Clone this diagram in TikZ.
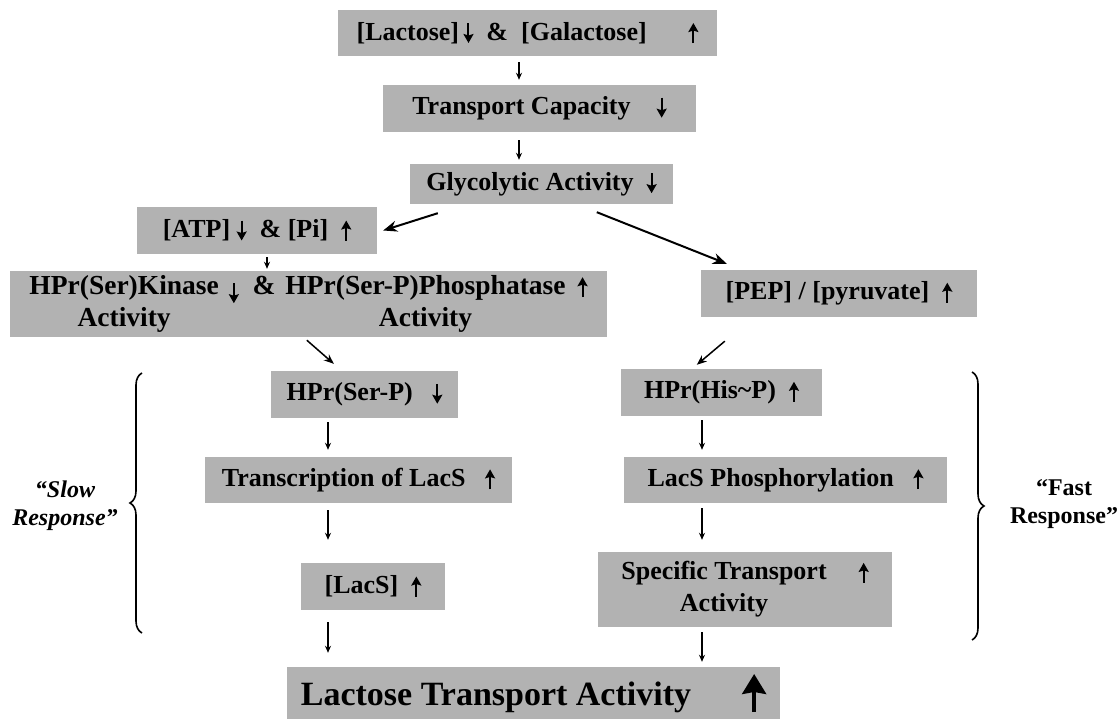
\documentclass[tikz,border=0pt]{standalone}
\usepackage{fontspec}
\setmainfont{Liberation Serif}
\usetikzlibrary{arrows.meta,decorations.pathreplacing}
\definecolor{boxgray}{RGB}{178,178,178}
\newcommand{\boxfont}{\fontsize{26}{32}\selectfont\bfseries}
\newcommand{\respfont}{\fontsize{24}{28}\selectfont\bfseries}
\newcommand{\upa}{\tikz[baseline=0pt]\draw[line width=2pt,-{Stealth[length=9pt,width=10pt,inset=1.5pt]}] (0pt,-3pt) -- (0pt,17pt);}
\newcommand{\dna}{\tikz[baseline=0pt]\draw[line width=2pt,-{Stealth[length=9pt,width=10pt,inset=1.5pt]}] (0pt,17pt) -- (0pt,-3pt);}
\newcommand{\bigupa}{\tikz[baseline=0pt]\draw[line width=3.5pt,-{Stealth[length=20pt,width=24pt,inset=2pt]}] (0pt,-7pt) -- (0pt,31pt);}

\begin{document}
\begin{tikzpicture}[x=1pt, y=-1pt,
    box/.style={rectangle, fill=boxgray, inner sep=0pt, font=\boxfont},
    arrow/.style={-{Stealth[length=7pt,width=6pt]}, line width=1.2pt},
    midarrow/.style={-{Stealth[length=10pt,width=8pt]}, line width=1.5pt},
    bigarrow/.style={-{Stealth[length=14pt,width=11pt]}, line width=2pt},
    brace/.style={decorate, decoration={brace, amplitude=12pt}, line width=1.6pt},
    resp/.style={font=\respfont, align=center}
  ]
  \useasboundingbox (0,0) rectangle (1120,719);

  \node[box, minimum width=379pt, minimum height=46pt] (lac) at (527.5,33) {[Lactose]\,\dna\ \ \&\ \ [Galactose]\hspace{1.6em}\upa};
  \node[box, minimum width=313pt, minimum height=47pt] (tcap) at (539.5,108.5) {Transport Capacity\hspace{1em}\dna};
  \node[box, minimum width=263pt, minimum height=40pt] (glyc) at (541.5,184) {Glycolytic Activity\ \ \dna};
  \node[box, minimum width=240pt, minimum height=47pt] (atp) at (257,230.5) {[ATP] \dna\ \ \& [Pi]\ \ \upa};
  \node[box, minimum width=597pt, minimum height=66pt, font=\fontsize{27.5}{32}\selectfont\bfseries] (kin) at (308.5,304) {\begin{tabular}{@{}c@{\hspace{10pt}}l@{\hspace{10pt}}c@{\hspace{12pt}}l@{}}
    HPr(Ser)Kinase & \raisebox{-6pt}{\dna}\ \ \& & HPr(Ser-P)Phosphatase & \upa\\
    Activity & & Activity &
  \end{tabular}};
  \node[box, minimum width=276pt, minimum height=47pt] (pep) at (839,293.5) {[PEP] / [pyruvate]\ \ \upa};
  \node[box, minimum width=187pt, minimum height=47pt] (serp) at (364.5,394.5) {HPr(Ser-P)\ \ \ \dna};
  \node[box, minimum width=201pt, minimum height=47pt] (hisp) at (721.5,392.5) {HPr(His\textasciitilde P)\ \ \upa};
  \node[box, minimum width=307pt, minimum height=46pt] (trans) at (358.5,480) {Transcription of LacS\ \ \ \upa};
  \node[box, minimum width=323pt, minimum height=46pt] (phos) at (785.5,480) {LacS Phosphorylation\ \ \ \upa};
  \node[box, minimum width=144pt, minimum height=47pt] (lacs) at (373,586.5) {[LacS]\ \ \upa};
  \node[box, minimum width=294pt, minimum height=75pt] (spec) at (745,589.5) {\begin{tabular}{@{}c@{\hspace{32pt}}l@{}}
    Specific Transport & \upa\\
    Activity &
  \end{tabular}};
  \node[box, minimum width=493pt, minimum height=52pt, font=\fontsize{34}{40}\selectfont\bfseries] (final) at (533.5,693) {Lactose Transport Activity\hspace{1.5em}\bigupa};

  \node[resp, font=\respfont\itshape] (slow) at (65,506) {“Slow\\Response”};
  \node[resp] (fast) at (1064,504) {“Fast\\Response”};

  \coordinate (colA) at (519,0);
  \coordinate (colB) at (328,0);
  \coordinate (colC) at (702,0);
  \coordinate (colD) at (267,0);

  \draw[arrow, shorten <=6pt, shorten >=5pt] (lac.south -| colA) -- (tcap.north -| colA);
  \draw[arrow, shorten <=8pt, shorten >=4pt] (tcap.south -| colA) -- (glyc.north -| colA);
  \draw[bigarrow] ([shift={(28,9)}]glyc.south west) -- ([shift={(6,0)}]atp.east);
  \draw[bigarrow] ([shift={(187,8)}]glyc.south west) -- ([shift={(26,-6)}]pep.north west);
  \draw[arrow, shorten <=3pt, shorten >=2pt] (atp.south -| colD) -- (kin.north -| colD);
  \draw[midarrow] ([shift={(297,3)}]kin.south west) -- ([shift={(63,-7)}]serp.north west);
  \draw[midarrow] ([shift={(24,24)}]pep.south west) -- ([shift={(76,-4)}]hisp.north west);
  \draw[arrow, shorten <=4pt, shorten >=7pt] (serp.south -| colB) -- (trans.north -| colB);
  \draw[arrow, shorten <=7pt, shorten >=23pt] (trans.south -| colB) -- (lacs.north -| colB);
  \draw[arrow, shorten <=12pt, shorten >=14pt] (lacs.south -| colB) -- (final.north -| colB);
  \draw[arrow, shorten <=4pt, shorten >=7pt] (hisp.south -| colC) -- (phos.north -| colC);
  \draw[arrow, shorten <=5pt, shorten >=12pt] (phos.south -| colC) -- (spec.north -| colC);
  \draw[arrow, shorten <=5pt, shorten >=5pt] (spec.south -| colC) -- (final.north -| colC);

  \draw[brace] (142,633) -- (142,373);
  \draw[brace] (972,372) -- (972,640);

  \end{tikzpicture}
\end{document}
